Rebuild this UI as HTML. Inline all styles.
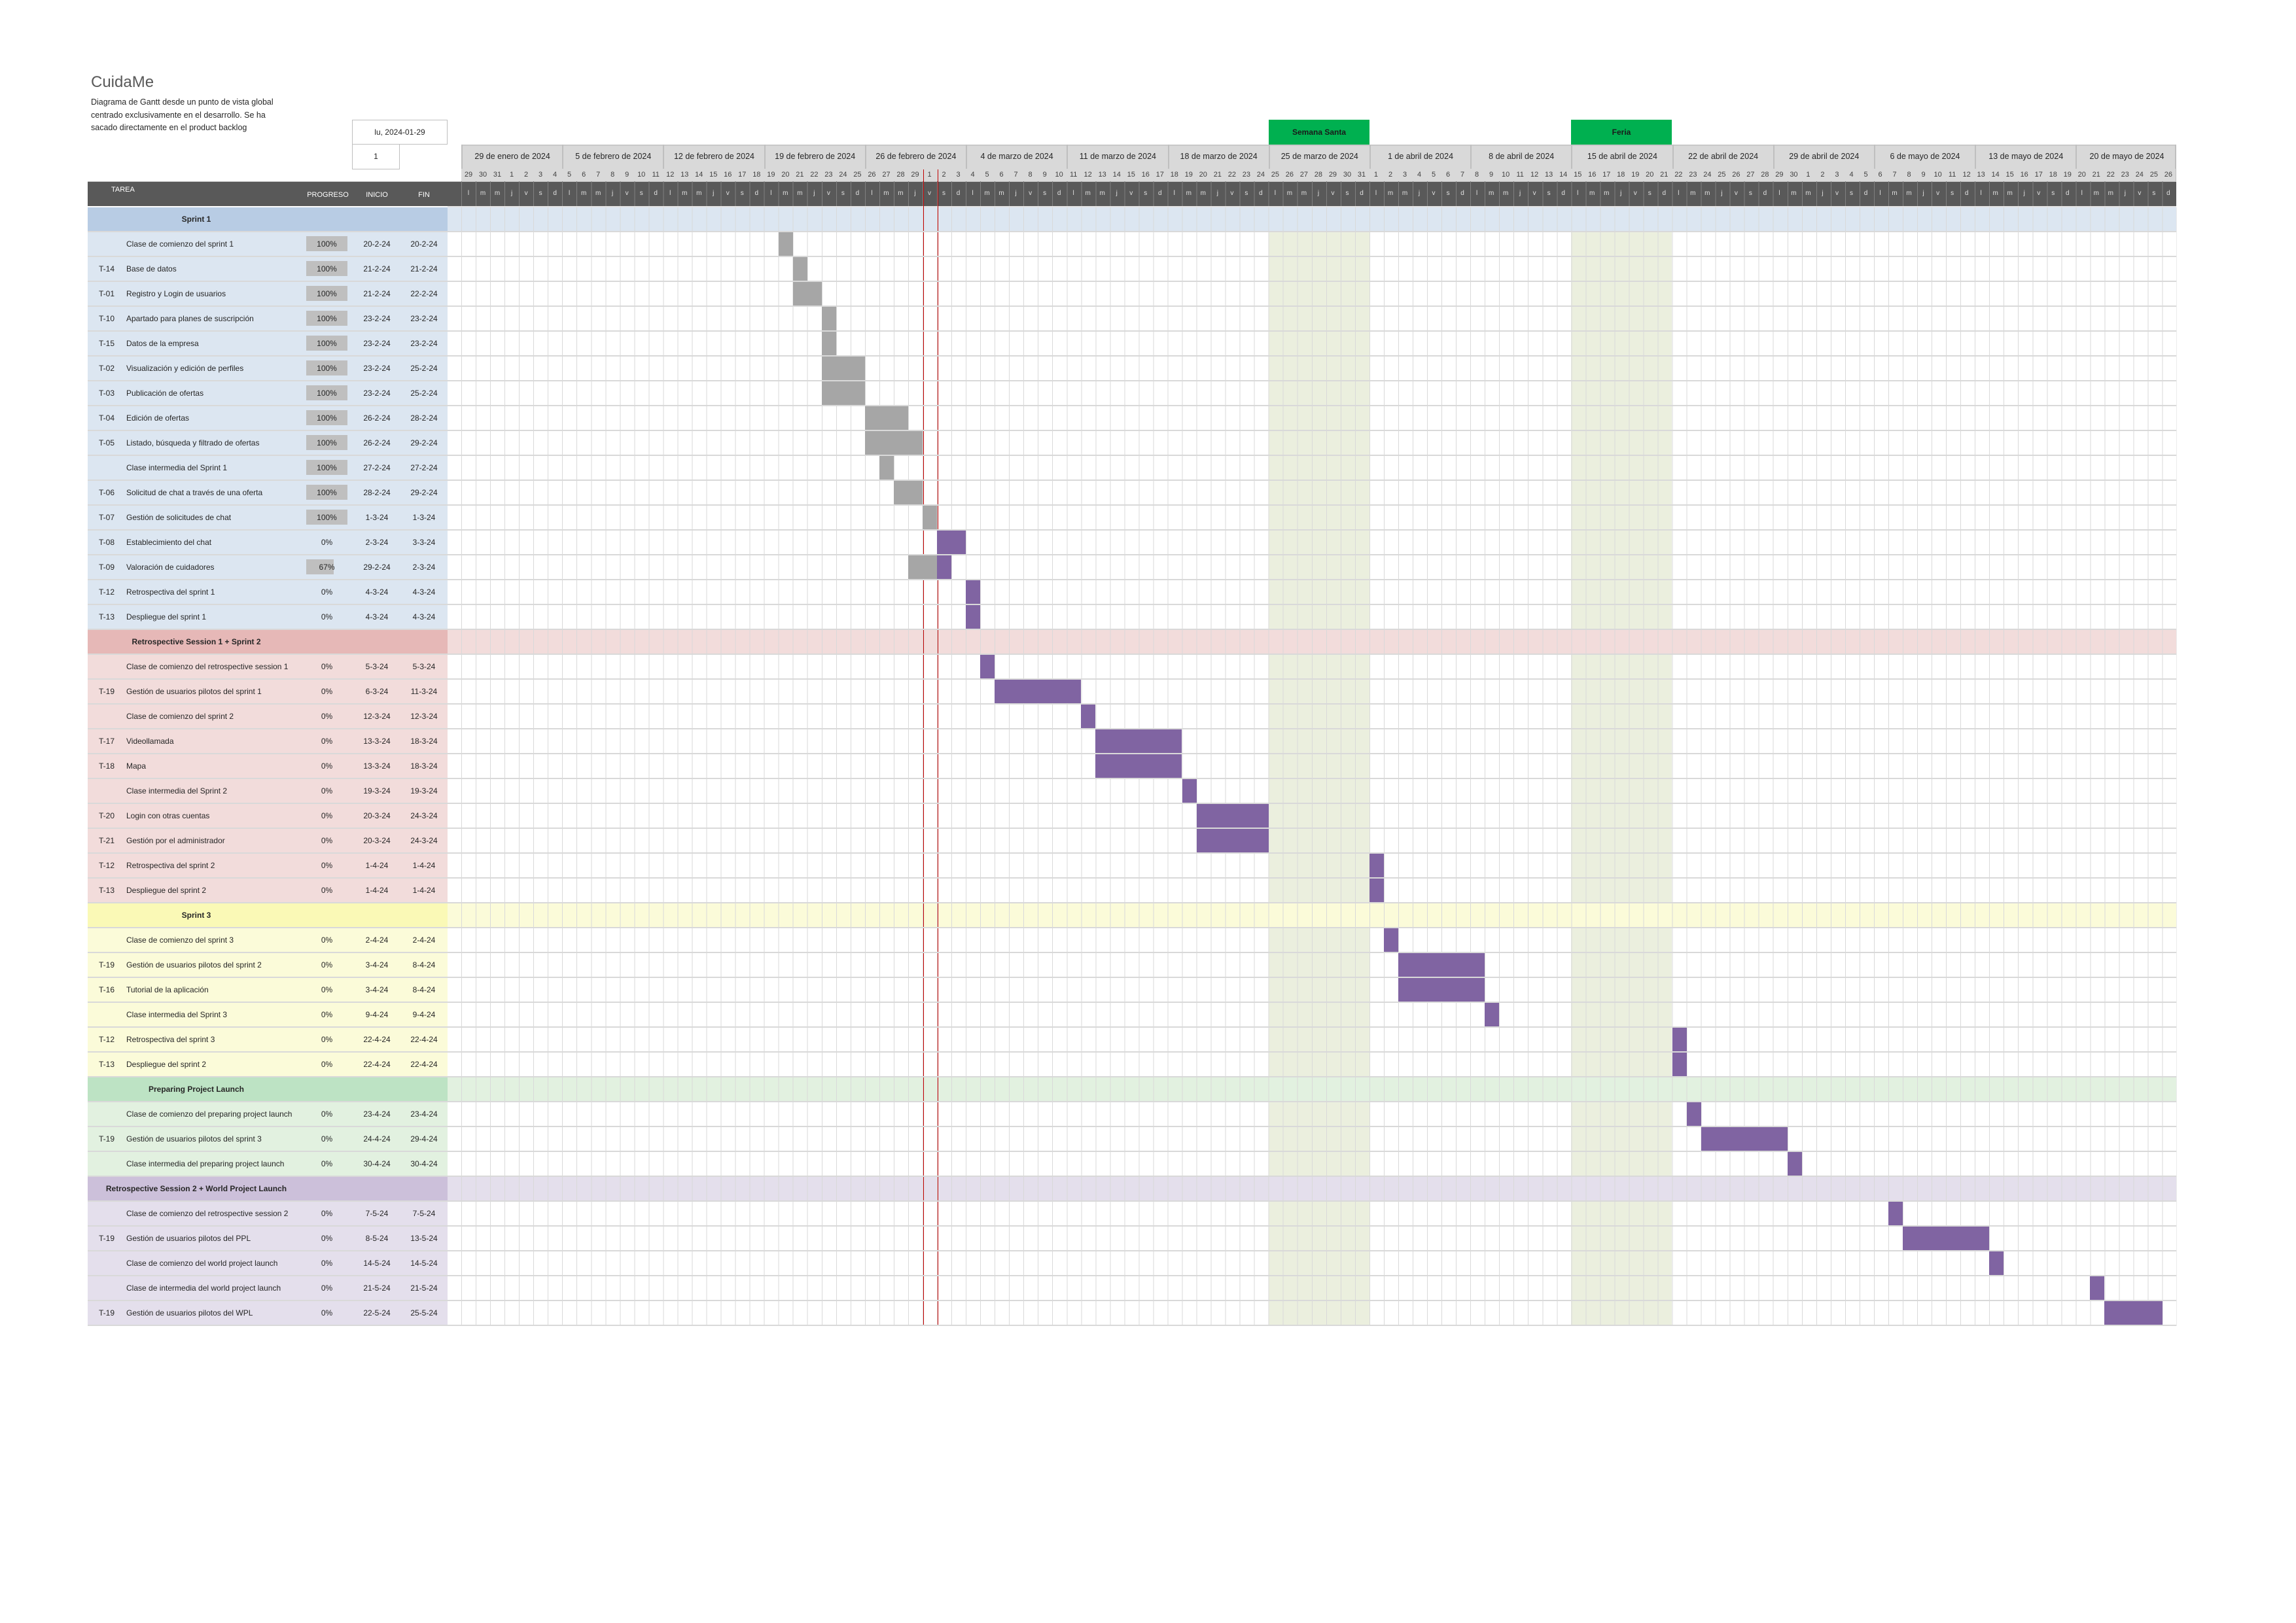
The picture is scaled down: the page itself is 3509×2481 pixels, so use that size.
<!DOCTYPE html>
<html><head><meta charset="utf-8"><style>
*{margin:0;padding:0;box-sizing:border-box}
body{width:3509px;height:2481px;background:#fff;position:relative;overflow:hidden;font-family:"Liberation Sans",sans-serif;color:#262626}
.a{position:absolute}
.row{position:absolute;left:134px;width:550px;height:36px;font-size:12px;line-height:36px}
.row span{position:absolute;top:0}
.c{left:17px}.n{left:59px}.p{left:334px;width:63px;text-align:center}.i{left:412px;width:60px;text-align:center}.f{left:484px;width:60px;text-align:center}
.pb{position:absolute;left:334px;top:6px;height:23px;background:#bfbfbf}
.g{font-weight:bold;text-align:center}
.cg{position:absolute;left:684px;width:2642px;height:36px}
.bar{position:absolute;height:36px}
.gr{background:#a6a6a6}.pu{background:#8064a2}
.days{position:absolute;left:705px;display:flex}
.days span{flex:none;width:22.03px;text-align:center}
.wk{position:absolute;top:221px;height:37px;width:154.21px;border-left:2px solid #bfbfbf;text-align:center;line-height:37px;font-size:12.5px;color:#262626}
</style></head><body>

<div class="a" style="left:139px;top:112px;font-size:24px;color:#595959">CuidaMe</div>
<div class="a" style="left:139px;top:147px;font-size:12.5px;line-height:19.5px;width:340px">Diagrama de Gantt desde un punto de vista global<br>centrado exclusivamente en el desarrollo. Se ha<br>sacado directamente en el product backlog</div>

<div class="a" style="left:538px;top:183px;width:146px;height:38px;border:1px solid #bfbfbf;text-align:center;line-height:36px;font-size:12px">lu, 2024-01-29</div>
<div class="a" style="left:538px;top:221px;width:73px;height:38px;border:1px solid #bfbfbf;border-top:none;text-align:center;line-height:36px;font-size:12px">1</div>

<div class="a" style="left:1939px;top:183px;width:154px;height:38px;background:#00b050;text-align:center;line-height:38px;font-size:12px;font-weight:bold;color:#1a1a1a">Semana Santa</div>
<div class="a" style="left:2401px;top:183px;width:154px;height:38px;background:#00b050;text-align:center;line-height:38px;font-size:12px;font-weight:bold;color:#1a1a1a">Feria</div>

<div class="a" style="left:705px;top:221px;width:2621px;height:56px;background:#d9d9d9;border-top:2px solid #c8c8c8"></div>
<div class="wk" style="left:705px">29 de enero de 2024</div>
<div class="wk" style="left:859.2px">5 de febrero de 2024</div>
<div class="wk" style="left:1013.4px">12 de febrero de 2024</div>
<div class="wk" style="left:1167.6px">19 de febrero de 2024</div>
<div class="wk" style="left:1321.8px">26 de febrero de 2024</div>
<div class="wk" style="left:1476px">4 de marzo de 2024</div>
<div class="wk" style="left:1630.3px">11 de marzo de 2024</div>
<div class="wk" style="left:1784.5px">18 de marzo de 2024</div>
<div class="wk" style="left:1938.7px">25 de marzo de 2024</div>
<div class="wk" style="left:2092.9px">1 de abril de 2024</div>
<div class="wk" style="left:2247.1px">8 de abril de 2024</div>
<div class="wk" style="left:2401.3px">15 de abril de 2024</div>
<div class="wk" style="left:2555.5px">22 de abril de 2024</div>
<div class="wk" style="left:2709.7px">29 de abril de 2024</div>
<div class="wk" style="left:2863.9px">6 de mayo de 2024</div>
<div class="wk" style="left:3018.2px">13 de mayo de 2024</div>
<div class="wk" style="left:3172.4px">20 de mayo de 2024</div>
<div class="a" style="left:3324px;top:221px;width:2px;height:56px;background:#bfbfbf"></div>
<div class="a" style="left:705px;top:262px;width:2621px;height:15px;background:repeating-linear-gradient(to right,#c4c4c4 0 1px,transparent 1px 22.03px)"></div>
<div class="days" style="top:258px;height:19px;line-height:19px;font-size:11px;color:#404040;background:#d9d9d9"><span>29</span><span>30</span><span>31</span><span>1</span><span>2</span><span>3</span><span>4</span><span>5</span><span>6</span><span>7</span><span>8</span><span>9</span><span>10</span><span>11</span><span>12</span><span>13</span><span>14</span><span>15</span><span>16</span><span>17</span><span>18</span><span>19</span><span>20</span><span>21</span><span>22</span><span>23</span><span>24</span><span>25</span><span>26</span><span>27</span><span>28</span><span>29</span><span>1</span><span>2</span><span>3</span><span>4</span><span>5</span><span>6</span><span>7</span><span>8</span><span>9</span><span>10</span><span>11</span><span>12</span><span>13</span><span>14</span><span>15</span><span>16</span><span>17</span><span>18</span><span>19</span><span>20</span><span>21</span><span>22</span><span>23</span><span>24</span><span>25</span><span>26</span><span>27</span><span>28</span><span>29</span><span>30</span><span>31</span><span>1</span><span>2</span><span>3</span><span>4</span><span>5</span><span>6</span><span>7</span><span>8</span><span>9</span><span>10</span><span>11</span><span>12</span><span>13</span><span>14</span><span>15</span><span>16</span><span>17</span><span>18</span><span>19</span><span>20</span><span>21</span><span>22</span><span>23</span><span>24</span><span>25</span><span>26</span><span>27</span><span>28</span><span>29</span><span>30</span><span>1</span><span>2</span><span>3</span><span>4</span><span>5</span><span>6</span><span>7</span><span>8</span><span>9</span><span>10</span><span>11</span><span>12</span><span>13</span><span>14</span><span>15</span><span>16</span><span>17</span><span>18</span><span>19</span><span>20</span><span>21</span><span>22</span><span>23</span><span>24</span><span>25</span><span>26</span></div>

<div class="a" style="left:134px;top:277px;width:3192px;height:38px;background:#595959;border-top:1px solid #c8c8c8"></div>
<div class="a" style="left:705px;top:277px;width:2621px;height:38px;background:repeating-linear-gradient(to right,#808080 0 1px,transparent 1px 22.03px)"></div>
<div class="a" style="left:170px;top:284px;font-size:11px;color:#fff">TAREA</div>
<div class="a" style="left:460px;top:292px;width:82px;text-align:center;font-size:11px;color:#fff">PROGRESO</div>
<div class="a" style="left:546px;top:292px;width:60px;text-align:center;font-size:11px;color:#fff">INICIO</div>
<div class="a" style="left:618px;top:292px;width:60px;text-align:center;font-size:11px;color:#fff">FIN</div>
<div class="days" style="top:277px;height:38px;line-height:38px;font-size:10px;color:#e0e0e0"><span>l</span><span>m</span><span>m</span><span>j</span><span>v</span><span>s</span><span>d</span><span>l</span><span>m</span><span>m</span><span>j</span><span>v</span><span>s</span><span>d</span><span>l</span><span>m</span><span>m</span><span>j</span><span>v</span><span>s</span><span>d</span><span>l</span><span>m</span><span>m</span><span>j</span><span>v</span><span>s</span><span>d</span><span>l</span><span>m</span><span>m</span><span>j</span><span>v</span><span>s</span><span>d</span><span>l</span><span>m</span><span>m</span><span>j</span><span>v</span><span>s</span><span>d</span><span>l</span><span>m</span><span>m</span><span>j</span><span>v</span><span>s</span><span>d</span><span>l</span><span>m</span><span>m</span><span>j</span><span>v</span><span>s</span><span>d</span><span>l</span><span>m</span><span>m</span><span>j</span><span>v</span><span>s</span><span>d</span><span>l</span><span>m</span><span>m</span><span>j</span><span>v</span><span>s</span><span>d</span><span>l</span><span>m</span><span>m</span><span>j</span><span>v</span><span>s</span><span>d</span><span>l</span><span>m</span><span>m</span><span>j</span><span>v</span><span>s</span><span>d</span><span>l</span><span>m</span><span>m</span><span>j</span><span>v</span><span>s</span><span>d</span><span>l</span><span>m</span><span>m</span><span>j</span><span>v</span><span>s</span><span>d</span><span>l</span><span>m</span><span>m</span><span>j</span><span>v</span><span>s</span><span>d</span><span>l</span><span>m</span><span>m</span><span>j</span><span>v</span><span>s</span><span>d</span><span>l</span><span>m</span><span>m</span><span>j</span><span>v</span><span>s</span><span>d</span></div>

<div class="a" style="left:684px;top:315px;width:2642px;height:2px;background:#e4e4e4"></div>
<div class="a" style="left:1939px;top:317px;width:154.2px;height:1710px;background:#ebefde"></div>
<div class="a" style="left:2401px;top:317px;width:154.2px;height:1710px;background:#ebefde"></div>
<div class="cg" style="top:317px;background:#dce6f1"></div>
<div class="cg" style="top:963px;background:#f2dcdb"></div>
<div class="cg" style="top:1381px;background:#fbfbd9"></div>
<div class="cg" style="top:1647px;background:#e2f1e0"></div>
<div class="cg" style="top:1799px;background:#e4dfec"></div>

<div class="a" style="left:1410.5px;top:259px;width:1.5px;height:1768px;background:#c00000"></div>
<div class="a" style="left:1432.5px;top:259px;width:1.5px;height:1768px;background:#c00000"></div>

<div class="a" style="left:705px;top:317px;width:2622px;height:1710px;background:repeating-linear-gradient(to right,#d9d9d9 0 1px,transparent 1px 22.03px)"></div>
<div class="a" style="left:134px;top:317px;width:3192px;height:1710px;background:repeating-linear-gradient(to bottom,transparent 0 36px,#d9d9d9 36px 38px)"></div>

<div class="row g" style="top:317px;background:#b8cce4;text-indent:-218px">Sprint 1</div>
<div class="row" style="top:355px;background:#dce6f1"><div class="pb" style="width:63px"></div><span class="n">Clase de comienzo del sprint 1</span><span class="p">100%</span><span class="i">20-2-24</span><span class="f">20-2-24</span></div>
<div class="row" style="top:393px;background:#dce6f1"><div class="pb" style="width:63px"></div><span class="c">T-14</span><span class="n">Base de datos</span><span class="p">100%</span><span class="i">21-2-24</span><span class="f">21-2-24</span></div>
<div class="row" style="top:431px;background:#dce6f1"><div class="pb" style="width:63px"></div><span class="c">T-01</span><span class="n">Registro y Login de usuarios</span><span class="p">100%</span><span class="i">21-2-24</span><span class="f">22-2-24</span></div>
<div class="row" style="top:469px;background:#dce6f1"><div class="pb" style="width:63px"></div><span class="c">T-10</span><span class="n">Apartado para planes de suscripción</span><span class="p">100%</span><span class="i">23-2-24</span><span class="f">23-2-24</span></div>
<div class="row" style="top:507px;background:#dce6f1"><div class="pb" style="width:63px"></div><span class="c">T-15</span><span class="n">Datos de la empresa</span><span class="p">100%</span><span class="i">23-2-24</span><span class="f">23-2-24</span></div>
<div class="row" style="top:545px;background:#dce6f1"><div class="pb" style="width:63px"></div><span class="c">T-02</span><span class="n">Visualización y edición de perfiles</span><span class="p">100%</span><span class="i">23-2-24</span><span class="f">25-2-24</span></div>
<div class="row" style="top:583px;background:#dce6f1"><div class="pb" style="width:63px"></div><span class="c">T-03</span><span class="n">Publicación de ofertas</span><span class="p">100%</span><span class="i">23-2-24</span><span class="f">25-2-24</span></div>
<div class="row" style="top:621px;background:#dce6f1"><div class="pb" style="width:63px"></div><span class="c">T-04</span><span class="n">Edición de ofertas</span><span class="p">100%</span><span class="i">26-2-24</span><span class="f">28-2-24</span></div>
<div class="row" style="top:659px;background:#dce6f1"><div class="pb" style="width:63px"></div><span class="c">T-05</span><span class="n">Listado, búsqueda y filtrado de ofertas</span><span class="p">100%</span><span class="i">26-2-24</span><span class="f">29-2-24</span></div>
<div class="row" style="top:697px;background:#dce6f1"><div class="pb" style="width:63px"></div><span class="n">Clase intermedia del Sprint 1</span><span class="p">100%</span><span class="i">27-2-24</span><span class="f">27-2-24</span></div>
<div class="row" style="top:735px;background:#dce6f1"><div class="pb" style="width:63px"></div><span class="c">T-06</span><span class="n">Solicitud de chat a través de una oferta</span><span class="p">100%</span><span class="i">28-2-24</span><span class="f">29-2-24</span></div>
<div class="row" style="top:773px;background:#dce6f1"><div class="pb" style="width:63px"></div><span class="c">T-07</span><span class="n">Gestión de solicitudes de chat</span><span class="p">100%</span><span class="i">1-3-24</span><span class="f">1-3-24</span></div>
<div class="row" style="top:811px;background:#dce6f1"><span class="c">T-08</span><span class="n">Establecimiento del chat</span><span class="p">0%</span><span class="i">2-3-24</span><span class="f">3-3-24</span></div>
<div class="row" style="top:849px;background:#dce6f1"><div class="pb" style="width:42px"></div><span class="c">T-09</span><span class="n">Valoración de cuidadores</span><span class="p">67%</span><span class="i">29-2-24</span><span class="f">2-3-24</span></div>
<div class="row" style="top:887px;background:#dce6f1"><span class="c">T-12</span><span class="n">Retrospectiva del sprint 1</span><span class="p">0%</span><span class="i">4-3-24</span><span class="f">4-3-24</span></div>
<div class="row" style="top:925px;background:#dce6f1"><span class="c">T-13</span><span class="n">Despliegue del sprint 1</span><span class="p">0%</span><span class="i">4-3-24</span><span class="f">4-3-24</span></div>

<div class="row g" style="top:963px;background:#e6b8b7;text-indent:-218px">Retrospective Session 1 + Sprint 2</div>
<div class="row" style="top:1001px;background:#f2dcdb"><span class="n">Clase de comienzo del retrospective session 1</span><span class="p">0%</span><span class="i">5-3-24</span><span class="f">5-3-24</span></div>
<div class="row" style="top:1039px;background:#f2dcdb"><span class="c">T-19</span><span class="n">Gestión de usuarios pilotos del sprint 1</span><span class="p">0%</span><span class="i">6-3-24</span><span class="f">11-3-24</span></div>
<div class="row" style="top:1077px;background:#f2dcdb"><span class="n">Clase de comienzo del sprint 2</span><span class="p">0%</span><span class="i">12-3-24</span><span class="f">12-3-24</span></div>
<div class="row" style="top:1115px;background:#f2dcdb"><span class="c">T-17</span><span class="n">Videollamada</span><span class="p">0%</span><span class="i">13-3-24</span><span class="f">18-3-24</span></div>
<div class="row" style="top:1153px;background:#f2dcdb"><span class="c">T-18</span><span class="n">Mapa</span><span class="p">0%</span><span class="i">13-3-24</span><span class="f">18-3-24</span></div>
<div class="row" style="top:1191px;background:#f2dcdb"><span class="n">Clase intermedia del Sprint 2</span><span class="p">0%</span><span class="i">19-3-24</span><span class="f">19-3-24</span></div>
<div class="row" style="top:1229px;background:#f2dcdb"><span class="c">T-20</span><span class="n">Login con otras cuentas</span><span class="p">0%</span><span class="i">20-3-24</span><span class="f">24-3-24</span></div>
<div class="row" style="top:1267px;background:#f2dcdb"><span class="c">T-21</span><span class="n">Gestión por el administrador</span><span class="p">0%</span><span class="i">20-3-24</span><span class="f">24-3-24</span></div>
<div class="row" style="top:1305px;background:#f2dcdb"><span class="c">T-12</span><span class="n">Retrospectiva del sprint 2</span><span class="p">0%</span><span class="i">1-4-24</span><span class="f">1-4-24</span></div>
<div class="row" style="top:1343px;background:#f2dcdb"><span class="c">T-13</span><span class="n">Despliegue del sprint 2</span><span class="p">0%</span><span class="i">1-4-24</span><span class="f">1-4-24</span></div>

<div class="row g" style="top:1381px;background:#faf9b6;text-indent:-218px">Sprint 3</div>
<div class="row" style="top:1419px;background:#fbfbd9"><span class="n">Clase de comienzo del sprint 3</span><span class="p">0%</span><span class="i">2-4-24</span><span class="f">2-4-24</span></div>
<div class="row" style="top:1457px;background:#fbfbd9"><span class="c">T-19</span><span class="n">Gestión de usuarios pilotos del sprint 2</span><span class="p">0%</span><span class="i">3-4-24</span><span class="f">8-4-24</span></div>
<div class="row" style="top:1495px;background:#fbfbd9"><span class="c">T-16</span><span class="n">Tutorial de la aplicación</span><span class="p">0%</span><span class="i">3-4-24</span><span class="f">8-4-24</span></div>
<div class="row" style="top:1533px;background:#fbfbd9"><span class="n">Clase intermedia del Sprint 3</span><span class="p">0%</span><span class="i">9-4-24</span><span class="f">9-4-24</span></div>
<div class="row" style="top:1571px;background:#fbfbd9"><span class="c">T-12</span><span class="n">Retrospectiva del sprint 3</span><span class="p">0%</span><span class="i">22-4-24</span><span class="f">22-4-24</span></div>
<div class="row" style="top:1609px;background:#fbfbd9"><span class="c">T-13</span><span class="n">Despliegue del sprint 2</span><span class="p">0%</span><span class="i">22-4-24</span><span class="f">22-4-24</span></div>

<div class="row g" style="top:1647px;background:#bde3c4;text-indent:-218px">Preparing Project Launch</div>
<div class="row" style="top:1685px;background:#e2f1e0"><span class="n">Clase de comienzo del preparing project launch</span><span class="p">0%</span><span class="i">23-4-24</span><span class="f">23-4-24</span></div>
<div class="row" style="top:1723px;background:#e2f1e0"><span class="c">T-19</span><span class="n">Gestión de usuarios pilotos del sprint 3</span><span class="p">0%</span><span class="i">24-4-24</span><span class="f">29-4-24</span></div>
<div class="row" style="top:1761px;background:#e2f1e0"><span class="n">Clase intermedia del preparing project launch</span><span class="p">0%</span><span class="i">30-4-24</span><span class="f">30-4-24</span></div>

<div class="row g" style="top:1799px;background:#ccc0da;text-indent:-218px">Retrospective Session 2 + World Project Launch</div>
<div class="row" style="top:1837px;background:#e4dfec"><span class="n">Clase de comienzo del retrospective session 2</span><span class="p">0%</span><span class="i">7-5-24</span><span class="f">7-5-24</span></div>
<div class="row" style="top:1875px;background:#e4dfec"><span class="c">T-19</span><span class="n">Gestión de usuarios pilotos del PPL</span><span class="p">0%</span><span class="i">8-5-24</span><span class="f">13-5-24</span></div>
<div class="row" style="top:1913px;background:#e4dfec"><span class="n">Clase de comienzo del world project launch</span><span class="p">0%</span><span class="i">14-5-24</span><span class="f">14-5-24</span></div>
<div class="row" style="top:1951px;background:#e4dfec"><span class="n">Clase de intermedia del world project launch</span><span class="p">0%</span><span class="i">21-5-24</span><span class="f">21-5-24</span></div>
<div class="row" style="top:1989px;background:#e4dfec"><span class="c">T-19</span><span class="n">Gestión de usuarios pilotos del WPL</span><span class="p">0%</span><span class="i">22-5-24</span><span class="f">25-5-24</span></div>

<div class="bar gr" style="top:355px;left:1189.7px;width:22.03px"></div>
<div class="bar gr" style="top:393px;left:1211.7px;width:22.03px"></div>
<div class="bar gr" style="top:431px;left:1211.7px;width:44.06px"></div>
<div class="bar gr" style="top:469px;left:1255.8px;width:22.03px"></div>
<div class="bar gr" style="top:507px;left:1255.8px;width:22.03px"></div>
<div class="bar gr" style="top:545px;left:1255.8px;width:66.09px"></div>
<div class="bar gr" style="top:583px;left:1255.8px;width:66.09px"></div>
<div class="bar gr" style="top:621px;left:1321.8px;width:66.09px"></div>
<div class="bar gr" style="top:659px;left:1321.8px;width:88.12px"></div>
<div class="bar gr" style="top:697px;left:1343.9px;width:22.03px"></div>
<div class="bar gr" style="top:735px;left:1365.9px;width:44.06px"></div>
<div class="bar gr" style="top:773px;left:1410px;width:22.03px"></div>
<div class="bar pu" style="top:811px;left:1432px;width:44.06px"></div>
<div class="bar gr" style="top:849px;left:1387.9px;width:44.06px"></div>
<div class="bar pu" style="top:849px;left:1432px;width:22.03px"></div>
<div class="bar pu" style="top:887px;left:1476px;width:22.03px"></div>
<div class="bar pu" style="top:925px;left:1476px;width:22.03px"></div>

<div class="bar pu" style="top:1001px;left:1498.1px;width:22.03px"></div>
<div class="bar pu" style="top:1039px;left:1520.1px;width:132.18px"></div>
<div class="bar pu" style="top:1077px;left:1652.3px;width:22.03px"></div>
<div class="bar pu" style="top:1115px;left:1674.3px;width:132.18px"></div>
<div class="bar pu" style="top:1153px;left:1674.3px;width:132.18px"></div>
<div class="bar pu" style="top:1191px;left:1806.5px;width:22.03px"></div>
<div class="bar pu" style="top:1229px;left:1828.5px;width:110.15px"></div>
<div class="bar pu" style="top:1267px;left:1828.5px;width:110.15px"></div>
<div class="bar pu" style="top:1305px;left:2092.9px;width:22.03px"></div>
<div class="bar pu" style="top:1343px;left:2092.9px;width:22.03px"></div>

<div class="bar pu" style="top:1419px;left:2114.9px;width:22.03px"></div>
<div class="bar pu" style="top:1457px;left:2137px;width:132.18px"></div>
<div class="bar pu" style="top:1495px;left:2137px;width:132.18px"></div>
<div class="bar pu" style="top:1533px;left:2269.1px;width:22.03px"></div>
<div class="bar pu" style="top:1571px;left:2555.5px;width:22.03px"></div>
<div class="bar pu" style="top:1609px;left:2555.5px;width:22.03px"></div>

<div class="bar pu" style="top:1685px;left:2577.6px;width:22.03px"></div>
<div class="bar pu" style="top:1723px;left:2599.6px;width:132.18px"></div>
<div class="bar pu" style="top:1761px;left:2731.8px;width:22.03px"></div>

<div class="bar pu" style="top:1837px;left:2886px;width:22.03px"></div>
<div class="bar pu" style="top:1875px;left:2908px;width:132.18px"></div>
<div class="bar pu" style="top:1913px;left:3040.2px;width:22.03px"></div>
<div class="bar pu" style="top:1951px;left:3194.4px;width:22.03px"></div>
<div class="bar pu" style="top:1989px;left:3216.4px;width:88.12px"></div>

</body></html>
